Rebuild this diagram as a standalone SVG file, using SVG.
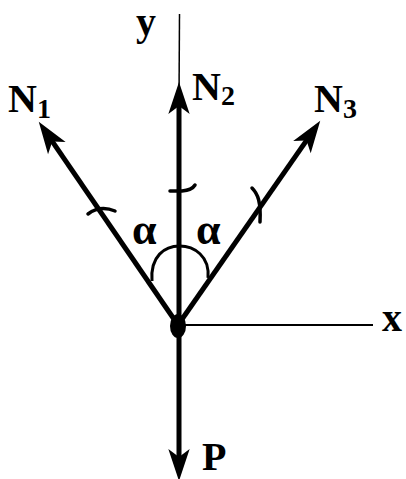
<svg xmlns="http://www.w3.org/2000/svg" width="406" height="479" viewBox="0 0 406 479">
<style>
.t{font-family:"Liberation Serif","Times New Roman",serif;font-weight:bold;font-size:40px;fill:#000}
.s{font-size:28px}
.al{font-size:44px}
.f{stroke:#000;stroke-width:5;fill:none}
.a{stroke:#000;fill:none}
.k{stroke:#000;stroke-width:3.5;fill:none;stroke-linecap:round}
</style>
<defs>
<marker id="ah" markerUnits="userSpaceOnUse" markerWidth="40" markerHeight="40" viewBox="-15 -10 30 20" refX="0" refY="0" orient="auto" overflow="visible">
<path d="M12,0 L-12,-8 L-6,0 L-12,8 Z" fill="#000"/>
</marker>
</defs>
<rect width="406" height="479" fill="#fff"/>
<g id="connectors">
<line id="y-axis" class="a" stroke-width="1.5" x1="179.5" y1="14" x2="179" y2="100"/>
<line id="x-axis" class="a" stroke-width="2" x1="180" y1="325" x2="373" y2="325"/>
<line id="N1-arrow" class="f" x1="178" y1="325" x2="47.8" y2="134.9" marker-end="url(#ah)"/>
<line id="N2-arrow" class="f" x1="179" y1="325" x2="179" y2="98" marker-end="url(#ah)"/>
<line id="N3-arrow" class="f" x1="178" y1="325" x2="311.1" y2="133.9" marker-end="url(#ah)"/>
<line id="P-arrow" class="f" x1="179" y1="325" x2="179" y2="465" marker-end="url(#ah)"/>
<path id="angle-arc" class="a" stroke-width="3" d="M152,281 C150,256 165,246 179.5,246 C194,246 210,256 208,278"/>
<path id="tick1" class="k" d="M88,214 Q100,205 115,211"/>
<path id="tick2" class="k" d="M170,191 L182,191 Q192,190 195,185"/>
<path id="tick3" class="k" d="M252,188 C258,194 261,202 260,222"/>
</g>
<g id="origin"><ellipse cx="178" cy="326" rx="8" ry="12" fill="#000"/></g>
<g id="label-y"><text class="t" x="136" y="35">y</text></g>
<g id="label-x"><text class="t" x="382" y="331">x</text></g>
<g id="label-N1"><text class="t" x="8" y="112">N<tspan class="s" dy="6">1</tspan></text></g>
<g id="label-N2"><text class="t" x="192" y="100">N<tspan class="s" dy="5">2</tspan></text></g>
<g id="label-N3"><text class="t" x="314" y="112">N<tspan class="s" dy="6">3</tspan></text></g>
<g id="label-P"><text class="t" x="202" y="470">P</text></g>
<g id="label-alpha1"><text class="t al" x="132" y="244">α</text></g>
<g id="label-alpha2"><text class="t al" x="196" y="244">α</text></g>
</svg>
